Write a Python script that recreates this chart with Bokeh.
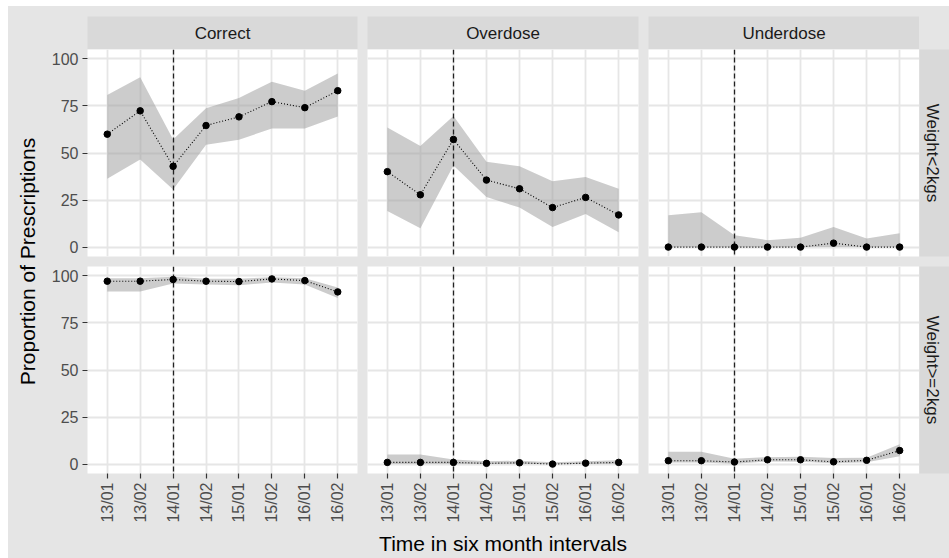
from math import pi
from bokeh.plotting import figure
from bokeh.models import Range1d, FactorRange, FixedTicker, Label
from bokeh.layouts import gridplot, row
from bokeh.embed import file_html
from bokeh.resources import INLINE

# ---------------- data ----------------
periods = ["13/01", "13/02", "14/01", "14/02", "15/01", "15/02", "16/01", "16/02"]
cutover = "14/01"
outcomes = ["Correct", "Overdose", "Underdose"]
weights = ["Weight<2kgs", "Weight>=2kgs"]
y_ticks = [0, 25, 50, 75, 100]

correct_lt2 = [60.0, 72.4, 42.9, 64.6, 69.2, 77.3, 74.1, 83.1]
correct_lt2_lo = [36.3, 46.5, 30.6, 54.4, 57.1, 63.0, 63.0, 69.4]
correct_lt2_hi = [80.8, 90.2, 57.2, 73.8, 79.2, 87.9, 83.1, 92.3]

overdose_lt2 = [40.1, 27.8, 57.2, 35.6, 31.0, 21.0, 26.4, 17.1]
overdose_lt2_lo = [19.2, 10.0, 43.3, 26.6, 21.0, 10.7, 17.6, 7.9]
overdose_lt2_hi = [63.6, 53.7, 69.7, 45.4, 42.9, 35.0, 37.3, 31.0]

underdose_lt2 = [0.0, 0.0, 0.0, 0.0, 0.0, 2.1, 0.0, 0.0]
underdose_lt2_lo = [0.0, 0.0, 0.0, 0.0, 0.0, 0.0, 0.0, 0.0]
underdose_lt2_hi = [16.9, 18.5, 6.3, 3.7, 4.9, 10.7, 4.6, 7.4]

correct_ge2 = [97.2, 97.2, 98.1, 97.2, 97.0, 98.4, 97.5, 91.5]
correct_ge2_lo = [91.7, 91.7, 95.9, 95.5, 95.0, 96.5, 95.4, 88.2]
correct_ge2_hi = [98.8, 98.8, 99.5, 98.5, 98.5, 99.3, 98.8, 93.8]

overdose_ge2 = [0.9, 0.9, 0.9, 0.4, 0.7, 0.0, 0.5, 0.9]
overdose_ge2_lo = [0.0, 0.0, 0.0, 0.0, 0.0, 0.0, 0.0, 0.0]
overdose_ge2_hi = [5.1, 5.1, 2.5, 1.5, 1.8, 1.0, 1.5, 2.1]

underdose_ge2 = [1.8, 1.8, 1.1, 2.3, 2.3, 1.2, 2.0, 7.2]
underdose_ge2_lo = [0.9, 0.9, 0.2, 1.4, 1.2, 0.4, 1.0, 4.2]
underdose_ge2_hi = [6.5, 6.5, 2.8, 3.7, 3.9, 3.2, 3.4, 10.6]

panel_data = [
    [(correct_lt2, correct_lt2_lo, correct_lt2_hi),
     (overdose_lt2, overdose_lt2_lo, overdose_lt2_hi),
     (underdose_lt2, underdose_lt2_lo, underdose_lt2_hi)],
    [(correct_ge2, correct_ge2_lo, correct_ge2_hi),
     (overdose_ge2, overdose_ge2_lo, overdose_ge2_hi),
     (underdose_ge2, underdose_ge2_lo, underdose_ge2_hi)],
]

# ---------------- style ----------------
BG = "#E5E5E5"
STRIP = "#D9D9D9"
GRID = "#E6E6E6"
FONT = "Liberation Sans"
PANEL_W = 271
PANEL_H = 207
LEFT_AXIS = 38
GAP = 10
TOP_PAD = 10
STRIP_H = 33
BOTTOM_AXIS = 85
RIGHT_STRIP_W = 30
YTITLE_W = 40
TOTAL_H = TOP_PAD + STRIP_H + PANEL_H + GAP + PANEL_H + BOTTOM_AXIS


def base_fig(width, height, left, right, top, bottom, x_range, y_range,
             xloc=None, yloc=None, bg="white"):
    p = figure(width=width, height=height, x_range=x_range, y_range=y_range,
               x_axis_location=xloc, y_axis_location=yloc,
               output_backend="svg", toolbar_location=None,
               min_border=0, min_border_left=left, min_border_right=right,
               min_border_top=top, min_border_bottom=bottom,
               background_fill_color=bg, border_fill_color=BG,
               outline_line_color=None, styles={"background-color": BG})
    return p


def make_panel(mean, lo, hi, col, rowi):
    left = LEFT_AXIS if col == 0 else 0
    right = GAP if col < 2 else 0
    bottom = GAP if rowi == 0 else BOTTOM_AXIS
    p = base_fig(left + PANEL_W + right, PANEL_H + bottom, left, right, 0, bottom,
                 FactorRange(factors=periods, range_padding=0.1,
                             range_padding_units="absolute"),
                 Range1d(-5, 105),
                 xloc="below" if rowi == 1 else None,
                 yloc="left" if col == 0 else None)
    p.xgrid.grid_line_color = GRID
    p.xgrid.grid_line_width = 1.8
    p.ygrid.grid_line_color = GRID
    p.ygrid.grid_line_width = 1.8
    p.ygrid.ticker = FixedTicker(ticks=y_ticks)

    p.varea(x=periods, y1=lo, y2=hi, fill_color="#999999", fill_alpha=0.5)
    p.vspan(x=[cutover], line_color="#222222", line_width=1.3, line_dash="5 3")
    p.line(x=periods, y=mean, line_color="black", line_width=1.1, line_dash="1 2")
    p.scatter(x=periods, y=mean, size=6.5, fill_color="black", line_color="black")

    for ax in p.axis:
        ax.axis_line_color = None
        ax.major_tick_line_color = "#333333"
        ax.major_tick_line_width = 1.2
        ax.major_tick_out = 5
        ax.major_tick_in = 0
        ax.minor_tick_line_color = None
        ax.major_label_text_font = FONT
        ax.major_label_text_font_size = "16px"
        ax.major_label_text_color = "#4D4D4D"
        ax.major_label_standoff = 4
    if col == 0:
        p.yaxis.ticker = FixedTicker(ticks=y_ticks)
    if rowi == 1:
        p.xaxis.major_label_orientation = pi / 2
        if col == 1:
            p.xaxis.axis_label = "Time in six month intervals"
            p.xaxis.axis_label_text_font = FONT
            p.xaxis.axis_label_text_font_size = "21px"
            p.xaxis.axis_label_text_font_style = "normal"
            p.xaxis.axis_label_text_color = "black"
            p.xaxis.axis_label_standoff = 6
    return p


def make_strip(text, col):
    left = LEFT_AXIS if col == 0 else 0
    right = GAP if col < 2 else 0
    p = base_fig(left + PANEL_W + right, TOP_PAD + STRIP_H, left, right, TOP_PAD, 0,
                 Range1d(0, 1), Range1d(0, 1), bg=STRIP)
    p.grid.visible = False
    p.add_layout(Label(x=0.5, y=0.5, text=text, text_align="center",
                       text_baseline="middle", text_font=FONT,
                       text_font_size="17px", text_color="#1A1A1A"))
    return p


def make_row_strip(text, rowi):
    bottom = GAP if rowi == 0 else BOTTOM_AXIS
    p = base_fig(RIGHT_STRIP_W, PANEL_H + bottom, 0, 0, 0, bottom,
                 Range1d(0, 1), Range1d(0, 1), bg=STRIP)
    p.grid.visible = False
    p.add_layout(Label(x=0.42, y=0.5, text=text, text_align="center",
                       text_baseline="middle", angle=-pi / 2, text_font=FONT,
                       text_font_size="17px", text_color="#1A1A1A"))
    return p


corner = base_fig(RIGHT_STRIP_W, TOP_PAD + STRIP_H, 0, 0, 0, 0,
                  Range1d(0, 1), Range1d(0, 1), bg=BG)
corner.grid.visible = False

rows = [[make_strip(o, c) for c, o in enumerate(outcomes)] + [corner]]
for r, w in enumerate(weights):
    rows.append([make_panel(*panel_data[r][c], c, r) for c in range(3)]
                + [make_row_strip(w, r)])

grid = gridplot(rows, toolbar_location=None)
grid.styles = {"background-color": BG}

ytitle = base_fig(YTITLE_W, TOTAL_H, 0, 0, 0, 0,
                  Range1d(0, YTITLE_W), Range1d(0, TOTAL_H), bg=BG)
ytitle.grid.visible = False
panel_mid = BOTTOM_AXIS + (PANEL_H * 2 + GAP) / 2
ytitle.add_layout(Label(x=19, y=panel_mid, text="Proportion of Prescriptions",
                        text_align="center", text_baseline="middle", angle=pi / 2,
                        text_font=FONT, text_font_size="21px", text_color="black"))

layout = row(ytitle, grid, margin=(6, 0, 0, 8), styles={"background-color": BG})

with open("out.html", "w") as f:
    f.write(file_html(layout, INLINE))
